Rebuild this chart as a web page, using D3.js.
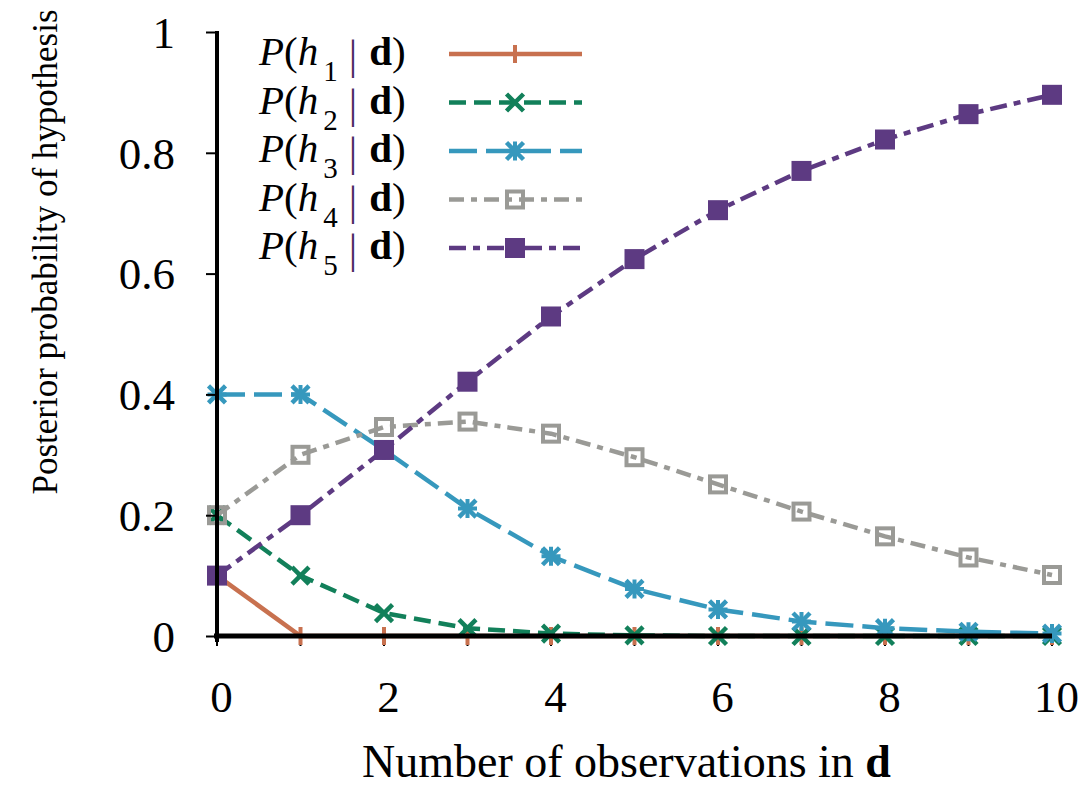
<!DOCTYPE html>
<html>
<head>
<meta charset="utf-8">
<script src="https://cdn.jsdelivr.net/npm/d3@7"></script>
<style>
  html, body { margin: 0; padding: 0; background: #fff; }
  svg { display: block; }
</style>
</head>
<body>
<svg id="chart" width="1086" height="788"></svg>
<script>
// ---- data ----
const observations = [0, 1, 2, 3, 4, 5, 6, 7, 8, 9, 10];
const h1 = [0.1, 0, 0, 0, 0, 0, 0, 0, 0, 0, 0];
const h2 = [0.2, 0.1, 0.038, 0.013, 0.004, 0.001, 0, 0, 0, 0, 0];
const h3 = [0.4, 0.4, 0.308, 0.211, 0.132, 0.078, 0.044, 0.024, 0.013, 0.007, 0.004];
const h4 = [0.2, 0.3, 0.346, 0.355, 0.335, 0.296, 0.251, 0.206, 0.165, 0.130, 0.101];
const h5 = [0.1, 0.2, 0.308, 0.421, 0.529, 0.624, 0.705, 0.770, 0.822, 0.864, 0.896];
const seriesSubscripts = ["1", "2", "3", "4", "5"];
const xTicks = [0, 2, 4, 6, 8, 10];
const yTicks = [0, 0.2, 0.4, 0.6, 0.8, 1];
const yTickLabels = ["0", "0.2", "0.4", "0.6", "0.8", "1"];

// ---- styles ----
const SERIF = "'Liberation Serif', 'Times New Roman', Times, serif";
const series = [
  { values: h1, color: "#c8714f", dash: null,          marker: "plus" },
  { values: h2, color: "#12805a", dash: "17,8",        marker: "cross" },
  { values: h3, color: "#3698bd", dash: "28,9",        marker: "star" },
  { values: h4, color: "#9a9a96", dash: "15,7,6,7",    marker: "openSquare" },
  { values: h5, color: "#5d3a82", dash: "17,7,7,7",    marker: "square" }
];

const svg = d3.select("#chart");
const x = d3.scaleLinear().domain([0, 10]).range([217, 1052]);
const y = d3.scaleLinear().domain([0, 1]).range([636, 32]);

function drawMarker(g, type, cx, cy, color) {
  const s = 8.5;
  if (type === "plus") {
    g.append("line").attr("x1", cx).attr("x2", cx).attr("y1", cy - 9).attr("y2", cy + 9)
      .attr("stroke", color).attr("stroke-width", 4);
  } else if (type === "cross" || type === "star") {
    g.append("path")
      .attr("d", `M${cx - s},${cy - s}L${cx + s},${cy + s}M${cx - s},${cy + s}L${cx + s},${cy - s}`)
      .attr("stroke", color).attr("stroke-width", 4.5).attr("fill", "none");
    if (type === "star") {
      g.append("path")
        .attr("d", `M${cx},${cy - s - 1}L${cx},${cy + s + 1}M${cx - s - 1},${cy}L${cx + s + 1},${cy}`)
        .attr("stroke", color).attr("stroke-width", 4).attr("fill", "none");
    }
  } else if (type === "openSquare") {
    g.append("rect").attr("x", cx - 8).attr("y", cy - 8).attr("width", 16).attr("height", 16)
      .attr("fill", "none").attr("stroke", color).attr("stroke-width", 4);
  } else if (type === "square") {
    g.append("rect").attr("x", cx - 10).attr("y", cy - 10).attr("width", 20).attr("height", 20)
      .attr("fill", color);
  }
}

// x tick marks (under series)
svg.append("g").selectAll("line").data(observations).join("line")
  .attr("x1", d => x(d)).attr("x2", d => x(d))
  .attr("y1", y(0)).attr("y2", y(0) + 10)
  .attr("stroke", "#000").attr("stroke-width", 2);

// series
const line = d3.line().x((d, i) => x(observations[i])).y(d => y(d));
series.forEach(s => {
  const g = svg.append("g");
  g.append("path").datum(s.values)
    .attr("d", line)
    .attr("fill", "none")
    .attr("stroke", s.color)
    .attr("stroke-width", 4.5)
    .attr("stroke-dasharray", s.dash);
  s.values.forEach((v, i) => drawMarker(g, s.marker, x(observations[i]), y(v), s.color));
});

// y axis
const yAxis = d3.axisLeft(y).tickValues(yTicks).tickSize(11).tickPadding(31)
  .tickFormat((d, i) => yTickLabels[i]);
const yg = svg.append("g").attr("transform", `translate(${x(0)},0)`).call(yAxis);
yg.select(".domain").remove();
yg.append("line").attr("x1", 0).attr("x2", 0).attr("y1", y(1) - 1).attr("y2", y(0) + 6)
  .attr("stroke", "#000").attr("stroke-width", 4);
yg.selectAll(".tick line").attr("stroke", "#000").attr("stroke-width", 2);
yg.selectAll(".tick text")
  .style("font-family", SERIF)
  .style("font-size", "45px").attr("fill", "#000").attr("dy", "0.34em");

// x axis
const xAxis = d3.axisBottom(x).tickValues(xTicks).tickSize(0).tickPadding(0)
  .tickFormat(d => String(d));
const xg = svg.append("g").attr("transform", `translate(0,${y(0)})`).call(xAxis);
xg.select(".domain").remove();
xg.append("line").attr("x1", x(0) - 3).attr("x2", x(10)).attr("y1", 0).attr("y2", 0)
  .attr("stroke", "#000").attr("stroke-width", 5);
xg.selectAll(".tick text")
  .style("font-family", SERIF)
  .style("font-size", "45px").attr("fill", "#000")
  .attr("dy", null).attr("y", 76).attr("dx", 4);

// axis titles
const xt = svg.append("text")
  .attr("x", 362).attr("y", 777)
  .style("font-family", SERIF)
  .style("font-size", "46px").attr("fill", "#000");
xt.append("tspan").text("Number of observations in ");
xt.append("tspan").style("font-weight", "bold").text("d");

svg.append("text")
  .attr("transform", "translate(57,252) rotate(-90)")
  .attr("text-anchor", "middle")
  .style("font-family", SERIF)
  .style("font-size", "35px").attr("fill", "#000")
  .text("Posterior probability of hypothesis");

// legend
const legend = svg.append("g");
series.forEach((s, i) => {
  const by = 65 + i * 48.5;
  const t = legend.append("text").attr("x", 259).attr("y", by)
    .style("font-family", SERIF).style("font-size", "41px").attr("fill", "#000");
  t.append("tspan").style("font-style", "italic").text("P");
  t.append("tspan").text("(");
  t.append("tspan").style("font-style", "italic").text("h");
  t.append("tspan").attr("dy", 16).attr("dx", 5).style("font-size", "29px").text(seriesSubscripts[i]);
  t.append("tspan").attr("dy", -12).attr("dx", 11).style("font-size", "42px")
    .style("fill", "#4a2862").text("|");
  t.append("tspan").attr("dy", -4).attr("dx", 12).style("font-weight", "bold").text("d");
  t.append("tspan").text(")");
  const ly = by - 11;
  legend.append("line")
    .attr("x1", 449).attr("x2", 582).attr("y1", ly).attr("y2", ly)
    .attr("stroke", s.color).attr("stroke-width", 4.5)
    .attr("stroke-dasharray", s.dash);
  drawMarker(legend, s.marker, 515, ly, s.color);
});
</script>
</body>
</html>
